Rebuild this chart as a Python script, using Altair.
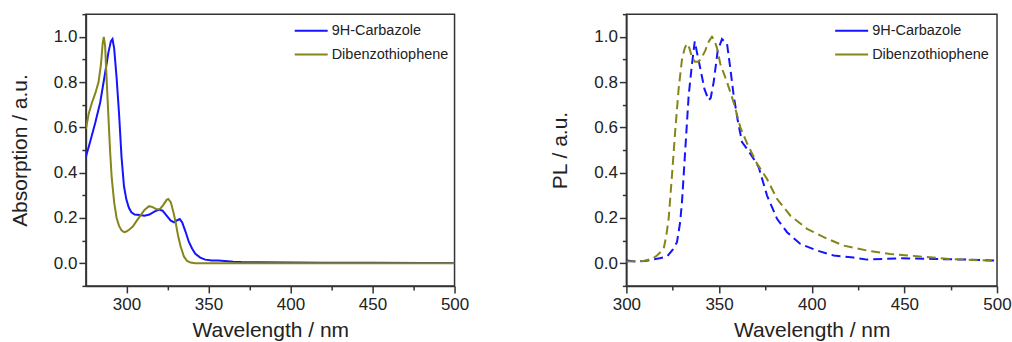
import altair as alt
import pandas as pd

SERIES = ["9H-Carbazole", "Dibenzothiophene"]
COLORS = ["#1414ff", "#85851a"]

# ---- Absorption (left panel) ----
abs_carb_nm = [275.3, 278, 281, 284, 287, 289, 290.5, 291.5, 292.5, 294, 295.5, 297, 298.5, 300,
               301.5, 303, 305, 308, 311, 314, 317, 320, 322, 324.5, 327, 329, 331, 332.5, 334,
               336, 338, 340, 342, 345, 348, 352, 356, 360, 365, 370, 380, 400, 420, 450, 480, 500]
abs_carb_val = [0.47, 0.54, 0.62, 0.71, 0.84, 0.93, 0.98, 0.99, 0.95, 0.82, 0.66, 0.47, 0.34, 0.28,
                0.245, 0.225, 0.215, 0.213, 0.21, 0.215, 0.228, 0.237, 0.232, 0.21, 0.188, 0.181,
                0.19, 0.195, 0.18, 0.14, 0.095, 0.065, 0.042, 0.025, 0.016, 0.012, 0.012, 0.01,
                0.007, 0.005, 0.004, 0.003, 0.002, 0.002, 0.001, 0.001]

abs_dbt_nm = [275.3, 277, 279, 281, 283, 284.5, 285.5, 286.2, 287, 288, 289, 290, 291, 292.5, 294,
              295.5, 297, 298.6, 300, 302, 304, 306, 308.5, 311, 313.8, 316, 318.5, 320.5, 322.5,
              324.5, 325.5, 327, 328.5, 330, 331.5, 333, 335, 337, 339, 342, 360, 400, 450, 500]
abs_dbt_val = [0.593, 0.66, 0.71, 0.75, 0.80, 0.88, 0.97, 1.0, 0.96, 0.80, 0.65, 0.50, 0.38, 0.27,
               0.20, 0.165, 0.145, 0.137, 0.14, 0.15, 0.163, 0.185, 0.21, 0.235, 0.252, 0.248,
               0.238, 0.24, 0.258, 0.28, 0.284, 0.27, 0.23, 0.18, 0.12, 0.075, 0.03, 0.01, 0.003,
               0.0, 0.0, 0.0, 0.0, 0.0]

# ---- PL (right panel) ----
pl_carb_nm = [300, 305, 310, 318, 322, 325, 327.3, 329, 330, 331, 331.8, 333.6, 335.4, 336.9, 338.1,
              339.9, 342.1, 344.4, 345.5, 347.1, 349.3, 351.6, 353.5, 354.3, 356.1, 357.9, 360,
              362.4, 365.1, 368.7, 371.4, 375.9, 381.3, 386.7, 393.9, 402.9, 411.9, 422.6, 429.9,
              447.8, 465.8, 483.8, 500]
pl_carb_val = [0.012, 0.008, 0.01, 0.022, 0.03, 0.06, 0.093, 0.18, 0.27, 0.4, 0.505, 0.74, 0.88,
               0.98, 0.93, 0.86, 0.77, 0.72, 0.73, 0.80, 0.94, 0.99, 0.975, 0.97, 0.86, 0.74,
               0.635, 0.535, 0.505, 0.461, 0.424, 0.299, 0.196, 0.137, 0.085, 0.056, 0.034,
               0.025, 0.016, 0.022, 0.019, 0.016, 0.012]

pl_dbt_nm = [300, 309.4, 314, 316.5, 320.1, 321.5, 322.8, 324.6, 326.4, 328.2, 330, 331.5, 332.7,
             334, 335.4, 337, 339, 340.8, 342.6, 344.5, 346.2, 347.5, 348.9, 350.7, 354.3, 357.9,
             361.5, 365.1, 370.5, 375.9, 381.3, 388.5, 397.5, 406.5, 417.2, 429.9, 442.4, 456.8,
             474.8, 500]
pl_dbt_val = [0.008, 0.01, 0.02, 0.034, 0.063, 0.12, 0.196, 0.387, 0.59, 0.77, 0.90, 0.95, 0.97,
              0.95, 0.91, 0.89, 0.89, 0.91, 0.94, 0.98, 1.0, 0.985, 0.95, 0.88, 0.80, 0.71, 0.60,
              0.53, 0.44, 0.372, 0.284, 0.21, 0.152, 0.115, 0.078, 0.056, 0.041, 0.031, 0.019,
              0.01]

# tick positions
y_major = [0.0, 0.2, 0.4, 0.6, 0.8, 1.0]
y_minor = [-0.1, 0.1, 0.3, 0.5, 0.7, 0.9, 1.1]
x_major = [300, 350, 400, 450, 500]
x_minor_abs = [275, 325, 375, 425, 475]
x_minor_pl = [325, 375, 425, 475]


def make_df(nm1, v1, nm2, v2):
    return pd.concat([
        pd.DataFrame({"nm": nm1, "val": v1, "series": SERIES[0], "order": range(len(nm1))}),
        pd.DataFrame({"nm": nm2, "val": v2, "series": SERIES[1], "order": range(len(nm2))}),
    ], ignore_index=True)


FONT = "Liberation Sans"
FRAME = "#333333"


def panel(df, xdomain, x_minor, ytitle, dashed, width):
    xscale = alt.Scale(domain=xdomain, nice=False, zero=False)
    yscale = alt.Scale(domain=[-0.1, 1.1], nice=False, zero=False)
    mark_kw = dict(strokeWidth=2, clip=True)
    if dashed:
        mark_kw["strokeDash"] = [9, 5]
    major = alt.Chart(df).mark_line(**mark_kw).encode(
        x=alt.X("nm:Q", scale=xscale,
                axis=alt.Axis(values=x_major, format="d", title="Wavelength / nm",
                              orient="bottom", tickSize=7, labelPadding=4, labelFlush=False,
                              titlePadding=7)),
        y=alt.Y("val:Q", scale=yscale,
                axis=alt.Axis(values=y_major, format=".1f", title=ytitle,
                              orient="left", tickSize=7, labelFlush=False, titlePadding=23)),
        color=alt.Color("series:N", scale=alt.Scale(domain=SERIES, range=COLORS),
                        legend=alt.Legend(title=None, orient="none", legendX=208, legendY=-1,
                                          symbolType="stroke", symbolSize=1089,
                                          symbolStrokeWidth=2, symbolDash=[1, 0],
                                          labelFont=FONT, labelFontSize=14.5,
                                          labelColor="#222222", labelOffset=3,
                                          rowPadding=-17, padding=0)),
        order="order:Q",
    )
    minor = alt.Chart(df).mark_line(opacity=0).encode(
        x=alt.X("nm:Q", scale=xscale,
                axis=alt.Axis(values=x_minor, labels=False, title=None, orient="bottom",
                              tickSize=4, domain=False)),
        y=alt.Y("val:Q", scale=yscale,
                axis=alt.Axis(values=y_minor, labels=False, title=None, orient="left",
                              tickSize=4, domain=False)),
        detail="series:N",
    )
    return alt.layer(major, minor).resolve_axis(x="independent", y="independent").properties(
        width=width, height=272)


left = panel(make_df(abs_carb_nm, abs_carb_val, abs_dbt_nm, abs_dbt_val),
             [275.3, 500], x_minor_abs, "Absorption / a.u.", False, 369)
right = panel(make_df(pl_carb_nm, pl_carb_val, pl_dbt_nm, pl_dbt_val),
              [300, 500], x_minor_pl, "PL / a.u.", True, 371)

chart = alt.hconcat(left, right, spacing=172, bounds="flush").resolve_scale(
    color="independent"
).properties(
    padding={"left": 8, "top": 12, "right": 0, "bottom": 0},
    background="white",
).configure_view(
    stroke=FRAME, strokeWidth=1.5
).configure_axis(
    grid=False,
    labelFont=FONT, labelFontSize=17, labelColor="#222222", labelPadding=2,
    titleFont=FONT, titleFontSize=21, titleFontWeight="normal", titleColor="#222222",
    domainColor=FRAME, domainWidth=1.5, tickColor=FRAME, tickWidth=1.5,
)

chart.save("out.html", embed_options={"renderer": "svg", "actions": False})
